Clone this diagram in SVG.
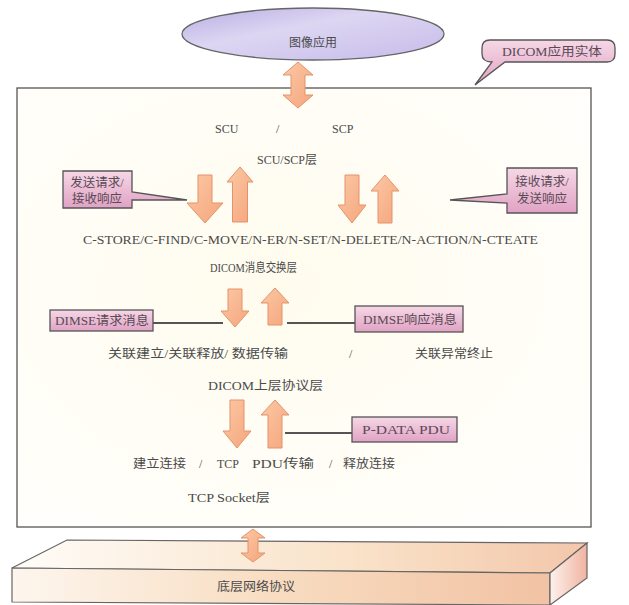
<svg xmlns="http://www.w3.org/2000/svg" width="629" height="605" viewBox="0 0 629 605">
<defs>
<style>
.t{font-family:"Liberation Serif","Noto Sans CJK SC",serif;font-size:12px;fill:#4a4a4a}
.c{font-family:"Liberation Serif","Noto Sans CJK SC",serif;font-size:12.5px;fill:#5a4a55}
.arr{fill:url(#ag);stroke:#e3936a;stroke-width:1}
.call{fill:url(#pg);stroke:#555;stroke-width:1.3}
.ln{stroke:#555;stroke-width:2;fill:none}
</style>
<linearGradient id="ag" x1="0" y1="0" x2="1" y2="1">
<stop offset="0" stop-color="#fbc9a6"/><stop offset="1" stop-color="#f5a57c"/>
</linearGradient>
<linearGradient id="pg" x1="0" y1="0" x2="0" y2="1">
<stop offset="0" stop-color="#f6d8e6"/><stop offset="1" stop-color="#e0a2c4"/>
</linearGradient>
<linearGradient id="eg" x1="0" y1="0" x2="1" y2="1">
<stop offset="0" stop-color="#b9aee3"/><stop offset="0.4" stop-color="#ddd6f2"/><stop offset="1" stop-color="#c6bbea"/>
</linearGradient>
<radialGradient id="bg" cx="0.45" cy="0.45" r="0.7">
<stop offset="0" stop-color="#fffcee"/><stop offset="1" stop-color="#fffefb"/>
</radialGradient>
<linearGradient id="sf" x1="0" y1="0" x2="1" y2="0">
<stop offset="0" stop-color="#fdf6ee"/><stop offset="0.5" stop-color="#f8dcc0"/><stop offset="1" stop-color="#f2c2a4"/>
</linearGradient>
<linearGradient id="st" x1="0" y1="0" x2="1" y2="0">
<stop offset="0" stop-color="#fffcf8"/><stop offset="0.6" stop-color="#f9e2c8"/><stop offset="1" stop-color="#f3c7ab"/>
</linearGradient>
<linearGradient id="sr" x1="0" y1="0" x2="1" y2="0">
<stop offset="0" stop-color="#fdf1ec"/><stop offset="1" stop-color="#f0b4a0"/>
</linearGradient>
</defs>

<g id="entity-box">
<rect x="17" y="88" width="574" height="439" fill="url(#bg)" stroke="#555" stroke-width="1.3"/>
</g>

<g id="image-app">
<ellipse cx="313" cy="34" rx="131" ry="26" fill="url(#eg)" stroke="#666" stroke-width="1.3"/>
<text class="t" x="313" y="47" text-anchor="middle">图像应用</text>
</g>

<g id="dicom-entity-callout">
<path class="call" d="M490 40 H607 Q615 40 615 48 V54 Q615 62 607 62 H505 L475 85 L492 62 Q482 62 482 54 V48 Q482 40 490 40 Z"/>
<text class="c" x="502" y="56" textLength="100" lengthAdjust="spacingAndGlyphs">DICOM应用实体</text>
</g>

<g id="scu-scp">
<text class="t" x="215" y="133">SCU</text>
<text class="t" x="276" y="133">/</text>
<text class="t" x="332" y="133">SCP</text>
<text class="t" x="257" y="164">SCU/SCP层</text>
</g>

<g id="send-callout">
<path class="call" d="M63 171 H132 V192 L187 200 L132 200 V208 H63 Z"/>
<text class="c" x="97" y="187" text-anchor="middle">发送请求/</text>
<text class="c" x="97" y="203" text-anchor="middle">接收响应</text>
</g>

<g id="recv-callout">
<path class="call" d="M507 168 H577 V213 H507 V203 L450 200 L507 194 Z"/>
<text class="c" x="542" y="186" text-anchor="middle">接收请求/</text>
<text class="c" x="542" y="203" text-anchor="middle">发送响应</text>
</g>

<g id="dimse-services">
<text class="t" x="83" y="244" textLength="455" lengthAdjust="spacingAndGlyphs">C-STORE/C-FIND/C-MOVE/N-ER/N-SET/N-DELETE/N-ACTION/N-CTEATE</text>
<text class="t" x="210" y="272" textLength="87" lengthAdjust="spacingAndGlyphs">DICOM消息交换层</text>
</g>

<g id="dimse-req">
<rect class="call" x="50" y="310" width="103" height="21"/>
<text class="c" x="55" y="325" textLength="94" lengthAdjust="spacingAndGlyphs">DIMSE请求消息</text>
</g>

<g id="dimse-rsp">
<rect class="call" x="355" y="306" width="108" height="26"/>
<text class="c" x="363" y="324" textLength="94" lengthAdjust="spacingAndGlyphs">DIMSE响应消息</text>
</g>

<g id="ul-services">
<text class="t" x="108" y="358" textLength="180" lengthAdjust="spacingAndGlyphs">关联建立/关联释放/ 数据传输</text>
<text class="t" x="349" y="358">/</text>
<text class="t" x="415" y="358" textLength="78" lengthAdjust="spacingAndGlyphs">关联异常终止</text>
<text class="t" x="208" y="390" textLength="115" lengthAdjust="spacingAndGlyphs">DICOM上层协议层</text>
</g>

<g id="pdata">
<rect class="call" x="352" y="417" width="105" height="25"/>
<text class="c" x="362" y="434" textLength="88" lengthAdjust="spacingAndGlyphs">P-DATA PDU</text>
</g>

<g id="tcp-services">
<text class="t" x="133" y="468" textLength="53" lengthAdjust="spacingAndGlyphs">建立连接</text>
<text class="t" x="199" y="468">/</text>
<text class="t" x="217" y="468">TCP</text>
<text class="t" x="252" y="468" textLength="62" lengthAdjust="spacingAndGlyphs">PDU传输</text>
<text class="t" x="329" y="468">/</text>
<text class="t" x="343" y="468" textLength="52" lengthAdjust="spacingAndGlyphs">释放连接</text>
<text class="t" x="188" y="502" textLength="82" lengthAdjust="spacingAndGlyphs">TCP Socket层</text>
</g>

<g id="network-slab">
<polygon points="67,540 587,543 550,573 12,568" fill="url(#st)" stroke="#666" stroke-width="1.2"/>
<polygon points="12,568 550,573 550,605 12,602" fill="url(#sf)" stroke="#666" stroke-width="1.2"/>
<polygon points="550,573 587,543 587,578 550,605" fill="url(#sr)" stroke="#666" stroke-width="1.2"/>
<text class="t" x="217" y="591" textLength="78" lengthAdjust="spacingAndGlyphs">底层网络协议</text>
</g>

<g id="connectors">
<path class="arr" d="M298 62 L313 75 H305 V95 H313 L298 108 L283 95 H291 V75 H283 Z"/>
<path class="arr" d="M198 175 H212 V203 H223 L205 223 L187 203 H198 Z"/>
<path class="arr" d="M240 167 L253 182 H247.5 V222 H232.5 V182 H227 Z"/>
<path class="arr" d="M345 175 H359 V205 H366 L352 223 L338 205 H345 Z"/>
<path class="arr" d="M385 175 L399 191 H392 V223 H378 V191 H371 Z"/>
<path class="ln" d="M153 323 H223"/>
<path class="ln" d="M287 323 H355"/>
<path class="arr" d="M228 289 H242 V311 H249 L235 327 L221 311 H228 Z"/>
<path class="arr" d="M275 288 L289 303 H282 V325 H268 V303 H261 Z"/>
<path class="ln" d="M285 433 H352"/>
<path class="arr" d="M230 400 H244 V431 H251 L237 448 L223 431 H230 Z"/>
<path class="arr" d="M275 400 L289 415 H282 V448 H268 V415 H261 Z"/>
<path class="arr" d="M253 529 L265 538 H258 V553 H265 L253 562 L241 553 H248 V538 H241 Z"/>
</g>
</svg>
